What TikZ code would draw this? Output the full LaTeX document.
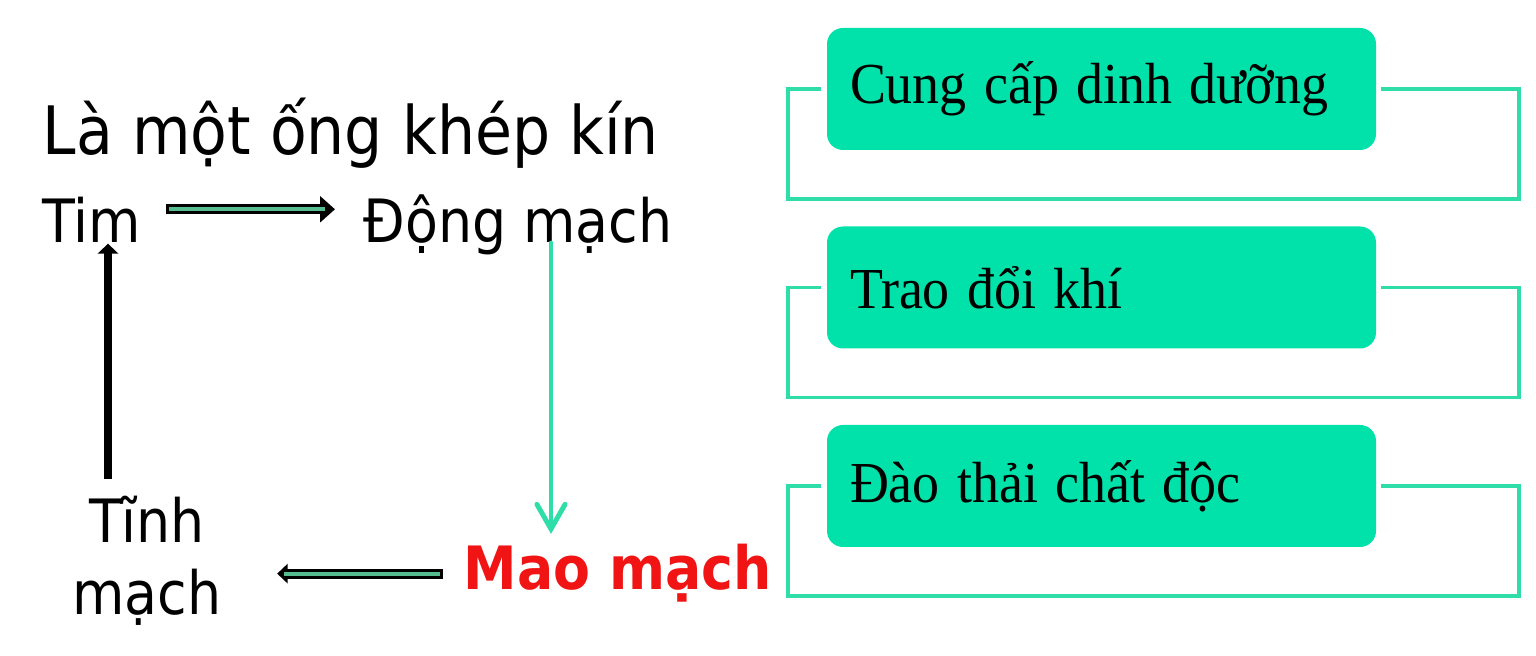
\documentclass[tikz,border=0pt]{standalone}
\usepackage{fontspec}
\setmainfont[FakeStretch=0.93]{Liberation Serif}
\newfontfamily\verd[FakeStretch=0.9]{DejaVu Sans}
\usepackage{tikz}
\usetikzlibrary{arrows.meta,calc,positioning}
\definecolor{boxgreen}{RGB}{0,226,170}
\definecolor{linegreen}{RGB}{46,221,168}
\definecolor{innergreen}{RGB}{84,188,142}
\definecolor{maored}{RGB}{240,20,20}

\begin{document}
\begin{tikzpicture}
		\useasboundingbox (0,0) rectangle (15.36,6.56);

		\begin{scope}[every node/.style={inner sep=0pt,font=\verd\fontsize{17pt}{20.5pt}\selectfont}]
			\node[anchor=base west,font=\verd\fontsize{19pt}{22pt}\selectfont] (L) at (0.42,5.01) {Là một ống khép kín};
			\node[anchor=base west] (Tim) at (0.42,4.13) {Tim};
			\node[anchor=base west] (DM) at (3.63,4.13) {Động mạch};
			\node[align=center] (TM) at (1.47,0.95) {Tĩnh\\mạch};
			\node[anchor=base west,text=maored,font=\verd\bfseries\fontsize{17pt}{20.5pt}\selectfont] (MM) at (4.63,0.66) {Mao mạch};
		\end{scope}

		\begin{scope}[line cap=butt]
			\draw[line width=2.8pt,-{Triangle[length=4.2pt,width=7.2pt]}] ([xshift=0.24cm,yshift=0.11cm]Tim.east) -- ([xshift=-0.28cm,yshift=0.11cm]Tim.east -| DM.west);
			\draw[line width=1.1pt,innergreen] ([xshift=0.27cm,yshift=0.11cm]Tim.east) -- ([xshift=-0.38cm,yshift=0.11cm]Tim.east -| DM.west);
			\draw[line width=2.9pt,-{Triangle[length=3pt,width=5.5pt]}] ([xshift=-0.2cm]MM.west) -- ([xshift=0.55cm]MM.west -| TM.east);
			\draw[line width=1.1pt,innergreen] ([xshift=-0.23cm]MM.west) -- ([xshift=0.62cm]MM.west -| TM.east);
			\draw[line width=2.3pt,-{Triangle[length=2.8pt,width=5.7pt]}] ([xshift=-0.39cm,yshift=0.17cm]TM.north) -- ([xshift=-0.39cm]TM.north |- Tim.south);
			\draw[line width=1.4pt,linegreen,line cap=round,-{Straight Barb[length=7pt,width=8pt,line cap=round]}] ([xshift=0.88cm]DM.base -| MM.west) -- ([xshift=0.88cm,yshift=0.10cm]MM.north west);
		\end{scope}

		\begin{scope}[every node/.style={fill=boxgreen,rounded corners=0.16cm,minimum width=5.49cm,minimum height=1.22cm,text width=5.03cm,inner xsep=0.23cm,align=left,font=\fontsize{16.5pt}{20pt}\selectfont,execute at begin node={\spaceskip=0.3em\relax}}]
			\node (B1) at (11.015,5.67) {Cung cấp dinh dưỡng};
			\node (B2) at (11.015,3.685) {Trao đổi khí};
			\node (B3) at (11.015,1.70) {Đào thải chất độc};
		\end{scope}

		\begin{scope}[linegreen,line width=1.1pt]
			\foreach \b in {B1,B2,B3}
				\draw ([xshift=-0.05cm]\b.west) -| ++(-0.33,-1.10) -| ([xshift=1.42cm]\b.east) -- ([xshift=0.04cm]\b.east);
		\end{scope}
	\end{tikzpicture}
\end{document}
